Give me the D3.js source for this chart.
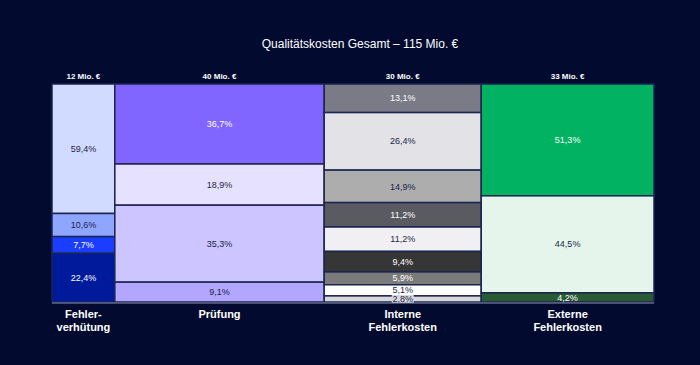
<!DOCTYPE html>
<html>
<head>
<meta charset="utf-8">
<script src="https://cdn.jsdelivr.net/npm/d3@7"></script>
<style>
  html, body { margin: 0; padding: 0; background: #020b2f; }
  svg { display: block; font-family: 'Liberation Sans', Arial, sans-serif; }
</style>
</head>
<body>
<div class="chart"></div>
<script>
'use strict';

var title = 'Qualitätskosten Gesamt – 115 Mio. €';
var categories = ['Fehlerverhütung', 'Prüfung', 'Interne Fehlerkosten', 'Externe Fehlerkosten'];
var categoryLines = [['Fehler-', 'verhütung'], ['Prüfung'], ['Interne', 'Fehlerkosten'], ['Externe', 'Fehlerkosten']];
var totals = [12, 40, 30, 33];
var totalLabels = ['12 Mio. €', '40 Mio. €', '30 Mio. €', '33 Mio. €'];

// shares per column, top to bottom
var sharesFehlerverhuetung = [59.4, 10.6, 7.7, 22.4];
var sharesPruefung = [36.7, 18.9, 35.3, 9.1];
var sharesIntern = [13.1, 26.4, 14.9, 11.2, 11.2, 9.4, 5.9, 5.1, 2.8];
var sharesExtern = [51.3, 44.5, 4.2];

var colorsFehlerverhuetung = ['#d1dbff', '#8fa6ff', '#1a3dff', '#001a9c'];
var colorsPruefung = ['#8066ff', '#e6e1ff', '#cdc5ff', '#b3a6ff'];
var colorsIntern = ['#7a7b86', '#e2e2e7', '#adadad', '#5a5b61', '#f0f0f4', '#363636', '#7b7b7b', '#ffffff', '#d8d8dc'];
var colorsExtern = ['#00b262', '#e5f5ec', '#285a33'];

var shares = [sharesFehlerverhuetung, sharesPruefung, sharesIntern, sharesExtern];
var colors = [colorsFehlerverhuetung, colorsPruefung, colorsIntern, colorsExtern];

var width = 700, height = 365;
var margins = { top: 84, bottom: 63, left: 52, right: 46 };
var bg = '#020b2f';

var svg = d3.select('div.chart').append('svg')
    .attr('width', width)
    .attr('height', height);

svg.append('rect')
    .attr('width', width)
    .attr('height', height)
    .attr('fill', bg);

// cumulative column positions
var starts = [];
var acc = 0;
totals.forEach(function (t) { starts.push(acc); acc += t; });

var x = d3.scaleLinear()
    .domain([0, d3.sum(totals)])
    .range([margins.left, width - margins.right]);

var y = d3.scaleLinear()
    .domain([0, 100])
    .range([margins.top, height - margins.bottom]);

// build segments
var segments = [];
shares.forEach(function (col, ci) {
    var top = 0;
    col.forEach(function (v, si) {
        segments.push({ col: ci, y0: top, y1: top + v, value: v, color: colors[ci][si] });
        top += v;
    });
});

function isDark(c) {
    return d3.lab(c).l < 66;
}

var chart = svg.append('g');

chart.selectAll('rect.seg')
    .data(segments)
    .enter().append('rect')
    .attr('class', 'seg')
    .attr('x', function (d) { return x(starts[d.col]); })
    .attr('width', function (d) { return x(starts[d.col] + totals[d.col]) - x(starts[d.col]); })
    .attr('y', function (d) { return y(d.y0); })
    .attr('height', function (d) { return y(d.y1) - y(d.y0); })
    .attr('fill', function (d) { return d.color; })
    .attr('stroke', '#1c2550')
    .attr('stroke-width', 1.5);

// light background for tiny segment label
var tiny = segments.filter(function (d) { return d.value < 4; });
chart.selectAll('rect.halo')
    .data(tiny)
    .enter().append('rect')
    .attr('class', 'halo')
    .attr('x', function (d) { return x(starts[d.col] + totals[d.col] / 2) - 11; })
    .attr('y', function (d) { return (y(d.y0) + y(d.y1)) / 2 - 4; })
    .attr('width', 22)
    .attr('height', 8)
    .attr('fill', '#d8d8dc');

chart.selectAll('text.pct')
    .data(segments)
    .enter().append('text')
    .attr('class', 'pct')
    .attr('x', function (d) { return x(starts[d.col] + totals[d.col] / 2); })
    .attr('y', function (d) { return (y(d.y0) + y(d.y1)) / 2; })
    .attr('dy', '0.35em')
    .attr('text-anchor', 'middle')
    .attr('font-size', 9)
    .attr('fill', function (d) { return isDark(d.color) ? '#ffffff' : '#1a1f45'; })
    .text(function (d) { return d3.format('.1f')(d.value).replace('.', ',') + '%'; });

// baseline
svg.append('line')
    .attr('x1', x(0))
    .attr('x2', x(d3.sum(totals)))
    .attr('y1', y(100) + 1)
    .attr('y2', y(100) + 1)
    .attr('stroke', '#8a93b5')
    .attr('stroke-width', 1);

// column totals on top
svg.selectAll('text.total')
    .data(totalLabels)
    .enter().append('text')
    .attr('class', 'total')
    .attr('x', function (d, i) { return x(starts[i] + totals[i] / 2); })
    .attr('y', margins.top - 5)
    .attr('text-anchor', 'middle')
    .attr('font-size', 8)
    .attr('font-weight', 'bold')
    .attr('fill', '#ffffff')
    .text(function (d) { return d; });

// category labels
var cats = svg.selectAll('text.cat')
    .data(categoryLines)
    .enter().append('text')
    .attr('class', 'cat')
    .attr('text-anchor', 'middle')
    .attr('font-size', 11)
    .attr('font-weight', 'bold')
    .attr('fill', '#ffffff');

cats.selectAll('tspan')
    .data(function (d, i) { return d.map(function (s) { return { s: s, i: i }; }); })
    .enter().append('tspan')
    .attr('x', function (d) { return x(starts[d.i] + totals[d.i] / 2); })
    .attr('y', function (d, j) { return 318 + j * 13; })
    .text(function (d) { return d.s; });

svg.append('text')
    .attr('x', 360)
    .attr('y', 48)
    .attr('text-anchor', 'middle')
    .attr('font-size', 12)
    .attr('fill', '#ffffff')
    .text(title);
</script>
</body>
</html>
